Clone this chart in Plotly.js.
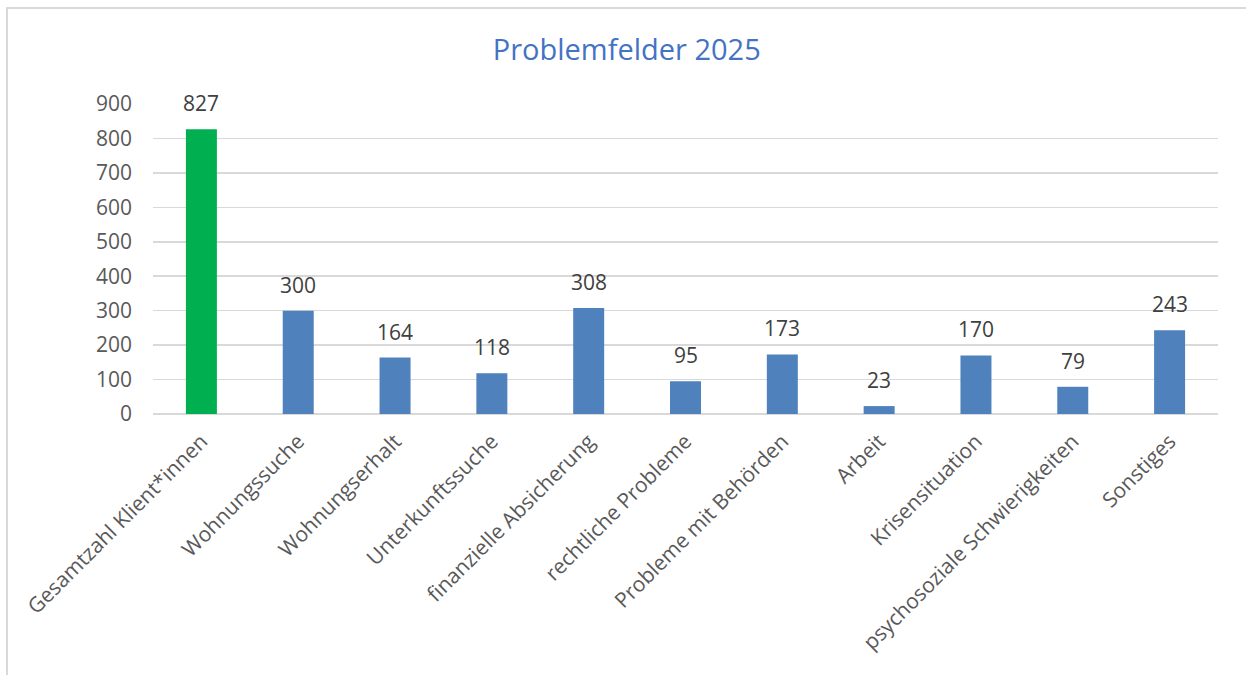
<!DOCTYPE html>
<html><head><meta charset="utf-8">
<script src="https://cdn.plot.ly/plotly-3.0.1.min.js"></script>
<style>
html,body{margin:0;padding:0;background:#fff;}
#frame{position:absolute;left:6px;top:7px;width:1300px;height:700px;border-left:2px solid #D9D9D9;border-top:2px solid #D9D9D9;pointer-events:none;z-index:5;}
#chart{width:1246px;height:675px;}
</style></head>
<body>
<div id="frame"></div>
<div id="chart"></div>
<script>
const categories = ["Gesamtzahl Klient*innen","Wohnungssuche","Wohnungserhalt","Unterkunftssuche","finanzielle Absicherung","rechtliche Probleme","Probleme mit Behörden","Arbeit","Krisensituation","psychosoziale Schwierigkeiten","Sonstiges"];
const values = [827,300,164,118,308,95,173,23,170,79,243];
const barColors = ["#00B050","#4F81BD","#4F81BD","#4F81BD","#4F81BD","#4F81BD","#4F81BD","#4F81BD","#4F81BD","#4F81BD","#4F81BD"];
const yTicks = [0,100,200,300,400,500,600,700,800,900];

const FONT = "'Open Sans', sans-serif";

const trace = {
  type: "bar",
  x: categories,
  y: values,
  marker: {color: barColors},
  hoverinfo: "x+y"
};

const annotations = categories.map((c, i) => ({
  x: c, y: values[i], xref: "x", yref: "y",
  text: String(values[i]),
  showarrow: false, yanchor: "bottom", yshift: 10,
  font: {family: FONT, size: 21, color: "#404040"}
}));

const layout = {
  width: 1246, height: 675,
  margin: {l: 153, r: 28, t: 104, b: 261},
  paper_bgcolor: "#fff", plot_bgcolor: "#fff",
  bargap: 0.68,
  showlegend: false,
  title: {text: "Problemfelder 2025", x: 0.503, xref: "container", xanchor: "center", y: 0.926, yanchor: "middle",
          font: {family: FONT, size: 29, color: "#4472C4"}},
  xaxis: {
    tickangle: -45, tickfont: {family: FONT, size: 21, color: "#595959"},
    showgrid: false, showline: false, ticks: "", ticklabelstandoff: 10, fixedrange: true
  },
  yaxis: {
    range: [0, 900], tickvals: yTicks, ticktext: yTicks.map(String),
    tickfont: {family: FONT, size: 21, color: "#595959"},
    gridcolor: "#D9D9D9", gridwidth: 1.5,
    zeroline: true, zerolinecolor: "#D9D9D9", zerolinewidth: 1.5,
    showline: false, ticks: "", ticklabelstandoff: 20, fixedrange: true
  },
  annotations: annotations
};

Plotly.newPlot("chart", [trace], layout, {displayModeBar: false, staticPlot: true});
</script>
</body></html>
